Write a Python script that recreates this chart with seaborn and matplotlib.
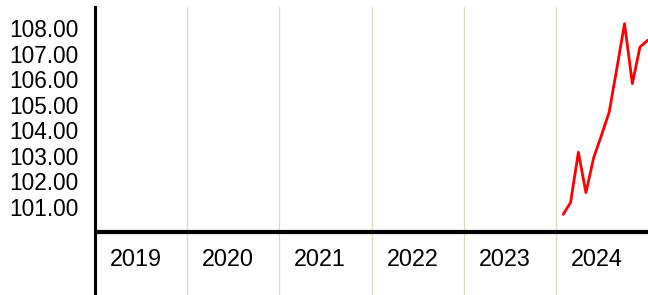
import pandas as pd
import seaborn as sns
import matplotlib.pyplot as plt

# monthly index values, 2024
months = pd.date_range("2024-01-31", periods=12, freq="ME")
values = [100.71, 101.17, 103.14, 101.56, 102.94, 103.79,
          104.71, 106.45, 108.18, 105.83, 107.26, 107.53]
years = [2019, 2020, 2021, 2022, 2023, 2024]
y_ticks = [101, 102, 103, 104, 105, 106, 107, 108]

df = pd.DataFrame({"date": months, "value": values})

sns.set_style("white")
plt.rcParams['font.family'] = ['Liberation Sans', 'DejaVu Sans']
plt.rcParams['text.color'] = 'black'
plt.rcParams['ytick.color'] = 'black'

fig = plt.figure(figsize=(6.48, 2.95), dpi=100)
ax = fig.add_axes([95 / 648, 0, 1 - 95 / 648, 1 - 6.5 / 295])

sns.lineplot(data=df, x="date", y="value", color="red", linewidth=2.0, ax=ax)

# year boundaries as vertical grid lines
for yr in years[1:]:
    ax.axvline(pd.Timestamp(f"{yr}-01-01"), color="#dcd9bd", linewidth=0.9, zorder=0)

# baseline at 100
ax.axhline(100, color="black", linewidth=3, zorder=3)

# year labels sit between the grid lines, under the baseline
for yr in years:
    ax.text(pd.Timestamp(f"{yr}-03-01"), 98.93, str(yr), ha="left", va="center",
            fontsize=16.8, color="black")

ax.set_xlim(pd.Timestamp("2019-01-01"), pd.Timestamp("2025-01-01"))
ax.set_ylim(97.55, 108.85)
ax.set_yticks(y_ticks)
ax.set_yticklabels([f"{v:.2f}" for v in y_ticks])
ax.tick_params(axis="y", length=0, pad=12, labelsize=16.3, labelcolor="black")
ax.set_xticks([])
ax.set_xlabel("")
ax.set_ylabel("")

for side in ["top", "right", "bottom"]:
    ax.spines[side].set_visible(False)
ax.spines["left"].set_color("black")
ax.spines["left"].set_linewidth(2.2)

fig.savefig("out.png", dpi=100)
